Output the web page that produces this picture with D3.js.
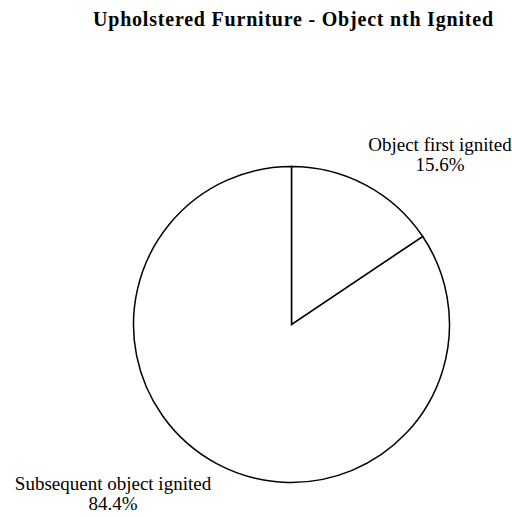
<!DOCTYPE html>
<html>
<head>
<meta charset="utf-8">
<script src="https://cdn.jsdelivr.net/npm/d3@7"></script>
<style>
  body { margin: 0; background: #fff; }
  svg text { font-family: "Liberation Serif", "Times New Roman", serif; fill: #000; }
</style>
</head>
<body>
<div id="container"></div>
<script>
// chart data
var categories = ["Object first ignited", "Subsequent object ignited"];
var values = [15.6, 84.4];
var valueLabels = ["15.6%", "84.4%"];

var width = 512, height = 517;
var svg = d3.select("div#container").append("svg")
    .attr("width", width)
    .attr("height", height);

// title - stretched a bit to match the wide spacing of the original
svg.append("text")
    .attr("x", 293)
    .attr("y", 26)
    .attr("text-anchor", "middle")
    .attr("textLength", 400)
    .attr("lengthAdjust", "spacing")
    .style("font-size", "20px")
    .style("font-weight", "bold")
    .text("Upholstered Furniture - Object nth Ignited");

var cx = 291.5, cy = 324.5, r = 158;

var pie = d3.pie().sort(null).value(function(d) { return d; });
var arc = d3.arc().innerRadius(0).outerRadius(r);

var g = svg.append("g").attr("transform", "translate(" + cx + "," + cy + ")");
g.selectAll("path.slice")
    .data(pie(values))
    .enter()
    .append("path")
      .attr("class", "slice")
      .attr("d", arc)
      .attr("fill", "#fff")
      .attr("stroke", "#000")
      .attr("stroke-width", 1.5)
      .attr("stroke-linejoin", "miter");

// labels placed outside the pie, near their slice
var labelPos = [[440, 151], [113, 490]];
var labels = svg.selectAll("g.label")
    .data(categories)
    .enter()
    .append("g")
      .attr("class", "label")
      .attr("transform", function(d, i) { return "translate(" + labelPos[i][0] + "," + labelPos[i][1] + ")"; });

labels.append("text")
    .attr("text-anchor", "middle")
    .style("font-size", "19px")
    .text(function(d) { return d; });
labels.append("text")
    .attr("text-anchor", "middle")
    .attr("y", 20)
    .style("font-size", "19px")
    .text(function(d, i) { return valueLabels[i]; });
</script>
</body>
</html>
